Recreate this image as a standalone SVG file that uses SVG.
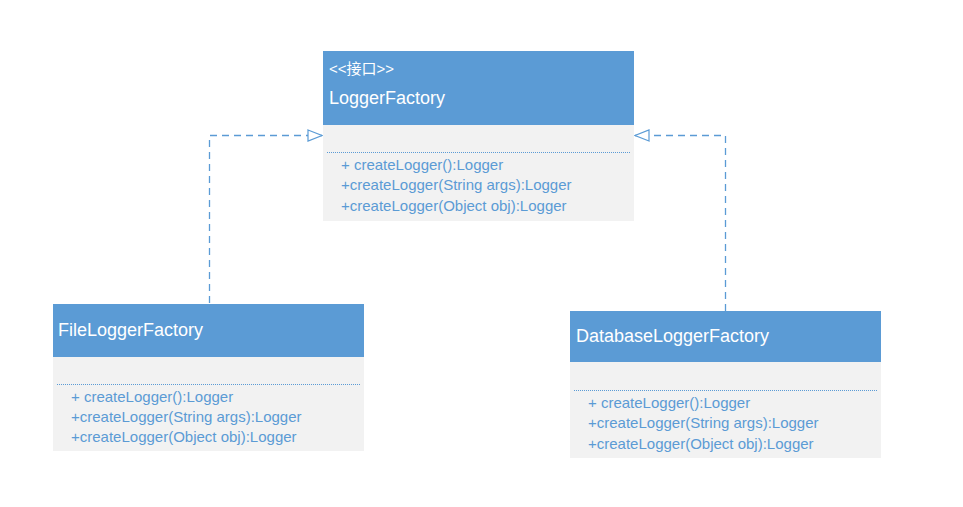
<svg xmlns="http://www.w3.org/2000/svg" width="963" height="507" viewBox="0 0 963 507">
<defs>
<style>
.hdr{fill:#5B9BD5}
.body{fill:#F2F2F2}
.sep{stroke:#5B9BD5;stroke-width:1;stroke-dasharray:1 1;fill:none}
.title{font-family:"Liberation Sans","Noto Sans CJK SC",sans-serif;font-size:18px;fill:#FFFFFF}
.stereo{font-family:"Liberation Sans","Noto Sans CJK SC",sans-serif;font-size:15px;fill:#FFFFFF}
.m{font-family:"Liberation Sans",sans-serif;font-size:15px;fill:#5B9BD5}
.conn{stroke:#5B9BD5;stroke-width:1.3;stroke-dasharray:7 5;fill:none}
</style>
<marker id="tri" viewBox="0 0 16 14" refX="15" refY="7" markerWidth="16" markerHeight="14" markerUnits="userSpaceOnUse" orient="auto">
<path d="M1,1.5 L15,7 L1,12.5 Z" fill="#FFFFFF" stroke="#5B9BD5" stroke-width="1.2"/>
</marker>
</defs>
<rect width="963" height="507" fill="#FFFFFF"/>
<g id="connectors">
<path class="conn" d="M209.5,303 V135.5 H322" marker-end="url(#tri)"/>
<path class="conn" d="M725.5,311 V135.5 H635" marker-end="url(#tri)"/>
</g>
<g id="LoggerFactory">
<rect class="hdr" x="323" y="51" width="311" height="74"/>
<rect class="body" x="323" y="125" width="311" height="96"/>
<line class="sep" x1="327" y1="152.5" x2="630" y2="152.5"/>
<text class="stereo" x="329" y="74">&lt;&lt;接口&gt;&gt;</text>
<text class="title" x="329" y="104">LoggerFactory</text>
<text class="m" x="341" y="170">+ createLogger():Logger</text>
<text class="m" x="341" y="190">+createLogger(String args):Logger</text>
<text class="m" x="341" y="211">+createLogger(Object obj):Logger</text>
</g>
<g id="FileLoggerFactory">
<rect class="hdr" x="53" y="304" width="311" height="53"/>
<rect class="body" x="53" y="357" width="311" height="94"/>
<line class="sep" x1="57" y1="384.5" x2="360" y2="384.5"/>
<text class="title" x="58" y="336">FileLoggerFactory</text>
<text class="m" x="71" y="402">+ createLogger():Logger</text>
<text class="m" x="71" y="422">+createLogger(String args):Logger</text>
<text class="m" x="71" y="442">+createLogger(Object obj):Logger</text>
</g>
<g id="DatabaseLoggerFactory">
<rect class="hdr" x="570" y="311" width="311" height="51"/>
<rect class="body" x="570" y="362" width="311" height="96"/>
<line class="sep" x1="574" y1="390.5" x2="877" y2="390.5"/>
<text class="title" x="576" y="342">DatabaseLoggerFactory</text>
<text class="m" x="588" y="408">+ createLogger():Logger</text>
<text class="m" x="588" y="428">+createLogger(String args):Logger</text>
<text class="m" x="588" y="449">+createLogger(Object obj):Logger</text>
</g>
</svg>
